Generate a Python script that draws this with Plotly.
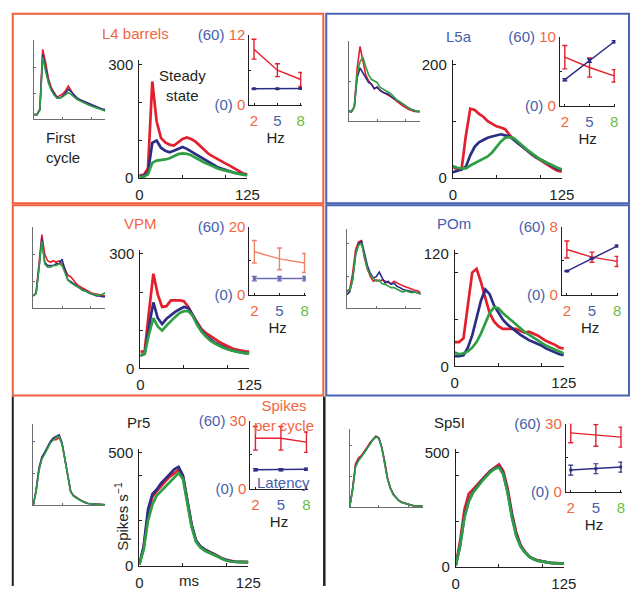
import plotly.graph_objects as go

# ---------------- data ----------------
T = [0, 5, 10, 15, 20, 25, 30, 35, 40, 45, 50, 55, 60, 65, 70, 75, 80, 85, 90, 95, 100, 105, 110, 115, 120, 125]
HZ = [2, 5, 8]

# L4 barrels
L4_SS_RED = [8, 8, 25, 255, 150, 106, 94, 88, 86, 95, 103, 107, 103, 96, 85, 75, 64, 57, 50, 44, 38, 32, 25, 17, 12, 10]
L4_SS_BLUE = [5, 5, 15, 93, 99, 80, 72, 68, 72, 78, 82, 77, 70, 62, 55, 48, 41, 34, 29, 25, 21, 17, 14, 12, 9, 8]
L4_SS_GREEN = [3, 3, 10, 40, 46, 47, 49, 52, 58, 63, 65, 64, 60, 53, 47, 41, 36, 30, 26, 22, 19, 16, 13, 11, 9, 7]
L4_FC_RED = [16, 16, 40, 270, 220, 158, 121, 102, 84, 90, 96, 109, 127, 109, 90, 78, 72, 65, 62, 57, 52, 47, 43, 41, 37, 32]
L4_FC_BLUE = [16, 16, 35, 250, 200, 145, 115, 97, 83, 80, 88, 100, 115, 105, 92, 82, 75, 70, 64, 60, 55, 50, 46, 42, 38, 36]
L4_FC_GREEN = [16, 16, 35, 240, 185, 140, 110, 92, 80, 80, 85, 92, 102, 95, 85, 76, 70, 64, 59, 54, 50, 45, 41, 38, 34, 30]
L4_SPC = [9.6, 6.0, 4.4]
L4_SPC_ERR = [1.7, 1.1, 1.2]
L4_LAT = [14.1, 14.1, 14.2]
L4_LAT_ERR = [0.4, 0.4, 0.4]

# L5a
L5_SS_RED = [20, 15, 15, 75, 122, 120, 113, 108, 100, 95, 91, 89, 86, 76, 68, 61, 55, 48, 42, 37, 32, 26, 21, 17, 13, 11]
L5_SS_BLUE = [10, 12, 15, 20, 40, 55, 63, 67, 71, 73, 75, 77, 75, 73, 67, 61, 55, 48, 42, 37, 33, 29, 24, 20, 16, 14]
L5_SS_GREEN = [21, 18, 17, 17, 22, 26, 30, 34, 38, 45, 55, 64, 71, 72, 70, 64, 57, 50, 44, 38, 33, 29, 25, 21, 18, 15]
L5_FC_RED = [24, 22, 37, 135, 190, 151, 118, 102, 94, 82, 86, 78, 73, 68, 65, 61, 55, 49, 43, 38, 34, 29, 27, 24, 24, 22]
L5_FC_BLUE = [24, 24, 35, 110, 135, 122, 110, 98, 94, 82, 86, 78, 73, 71, 68, 61, 57, 51, 47, 43, 38, 33, 29, 27, 24, 24]
L5_FC_GREEN = [24, 24, 35, 120, 151, 163, 139, 118, 106, 102, 98, 86, 82, 79, 73, 68, 61, 53, 49, 43, 38, 33, 29, 27, 24, 24]
L5_SPC = [7.1, 5.6, 4.4]
L5_SPC_ERR = [1.7, 1.4, 0.9]
L5_LAT = [23.0, 39.6, 56.0]
L5_LAT_ERR = [1.0, 1.5, 1.0]

# VPM
VPM_SS_RED = [44, 45, 150, 248, 194, 161, 163, 178, 178, 178, 176, 161, 140, 120, 103, 93, 85, 78, 70, 64, 58, 53, 49, 46, 45, 44]
VPM_SS_BLUE = [33, 38, 110, 173, 132, 116, 130, 140, 148, 155, 161, 158, 140, 118, 100, 86, 76, 68, 62, 56, 51, 47, 44, 42, 40, 40]
VPM_SS_GREEN = [35, 38, 90, 132, 110, 99, 112, 124, 135, 145, 150, 150, 138, 115, 97, 84, 73, 66, 59, 54, 50, 46, 44, 42, 40, 40]
VPM_FC_RED = [46, 58, 166, 276, 202, 178, 172, 178, 172, 178, 166, 148, 124, 118, 106, 91, 82, 76, 67, 64, 58, 55, 52, 49, 48, 46]
VPM_FC_BLUE = [46, 55, 150, 262, 172, 160, 160, 160, 166, 166, 184, 148, 106, 100, 91, 84, 76, 70, 64, 58, 54, 50, 46, 46, 43, 43]
VPM_FC_GREEN = [46, 55, 150, 252, 166, 154, 154, 160, 160, 166, 160, 136, 106, 96, 88, 82, 76, 67, 64, 58, 54, 52, 49, 49, 52, 58]
VPM_SPC = [12.6, 10.5, 9.3]
VPM_SPC_ERR = [3.3, 3.2, 2.8]
VPM_LAT = [14.1, 14.1, 14.1]
VPM_LAT_ERR = [2.0, 2.0, 2.0]

# POm
POM_SS_RED = [26, 26, 30, 67, 100, 104, 90, 73, 57, 48, 43, 40, 40, 40, 40, 38, 36, 37, 35, 33, 30, 27, 25, 23, 20, 19]
POM_SS_BLUE = [11, 11, 12, 20, 33, 52, 70, 82, 77, 65, 57, 50, 45, 41, 37, 34, 31, 28, 26, 24, 22, 19, 17, 15, 13, 12]
POM_SS_GREEN = [15, 13, 14, 16, 20, 26, 35, 47, 57, 63, 62, 57, 53, 48, 44, 40, 37, 34, 31, 28, 25, 22, 20, 18, 16, 14]
POM_FC_RED = [27, 29, 54, 91, 103, 105, 78, 61, 49, 42, 44, 42, 44, 42, 40, 38, 42, 39, 37, 35, 33, 32, 30, 28, 27, 24]
POM_FC_BLUE = [21, 25, 44, 83, 100, 104, 86, 66, 54, 47, 49, 56, 47, 39, 42, 37, 39, 34, 32, 29, 28, 27, 27, 25, 24, 22]
POM_FC_GREEN = [25, 27, 44, 83, 98, 100, 81, 61, 51, 47, 42, 44, 38, 37, 34, 32, 32, 29, 27, 25, 27, 25, 24, 25, 24, 22]
POM_SPC = [5.3, 4.4, 3.9]
POM_SPC_ERR = [1.0, 0.6, 0.6]
POM_LAT = [20.7, 32.0, 42.8]
POM_LAT_ERR = [0.5, 0.5, 0.8]

# Pr5
PR5_SS_RED = [5, 80, 235, 305, 330, 355, 375, 395, 410, 425, 395, 285, 178, 110, 84, 72, 64, 53, 43, 32, 25, 20, 17, 16, 16, 15]
PR5_SS_BLUE = [5, 85, 250, 318, 338, 366, 386, 407, 427, 438, 400, 290, 181, 112, 85, 71, 62, 51, 41, 30, 23, 19, 16, 16, 15, 15]
PR5_SS_GREEN = [5, 70, 200, 270, 311, 331, 352, 372, 393, 411, 385, 280, 170, 105, 80, 66, 57, 47, 37, 28, 22, 18, 16, 15, 15, 15]
PR5_FC_RED = [0, 90, 225, 295, 325, 365, 395, 412, 411, 425, 385, 290, 175, 88, 62, 48, 38, 28, 18, 13, 10, 8, 6, 6, 4, 4]
PR5_FC_BLUE = [0, 95, 233, 302, 332, 372, 401, 421, 431, 441, 391, 292, 174, 85, 59, 45, 36, 26, 16, 12, 10, 8, 6, 6, 4, 4]
PR5_FC_GREEN = [0, 85, 215, 290, 320, 360, 390, 410, 425, 430, 380, 285, 170, 85, 58, 44, 35, 25, 16, 12, 10, 8, 6, 6, 4, 4]
PR5_SPC = [22.3, 22.3, 20.6]
PR5_SPC_ERR = [5.2, 5.2, 4.5]
PR5_LAT = [16.9, 16.9, 17.2]
PR5_LAT_ERR = [1.0, 1.0, 1.0]

# Sp5I
SP5_SS_RED = [5, 110, 250, 320, 340, 362, 382, 402, 422, 438, 450, 420, 345, 235, 150, 95, 66, 45, 34, 27, 22, 19, 16, 15, 14, 14]
SP5_SS_BLUE = [5, 90, 220, 290, 328, 355, 377, 398, 418, 432, 440, 410, 330, 225, 140, 90, 63, 44, 33, 26, 22, 19, 16, 15, 14, 14]
SP5_SS_GREEN = [5, 90, 215, 285, 325, 352, 374, 395, 415, 430, 437, 405, 325, 215, 135, 88, 62, 43, 32, 25, 21, 18, 16, 15, 14, 14]
SP5_FC_RED = [0, 120, 280, 320, 335, 360, 390, 420, 440, 460, 450, 390, 300, 188, 124, 84, 62, 42, 32, 25, 20, 14, 10, 8, 8, 8]
SP5_FC_BLUE = [0, 112, 265, 306, 327, 357, 388, 418, 439, 459, 449, 388, 296, 184, 122, 82, 61, 41, 31, 24, 20, 14, 10, 8, 8, 8]
SP5_FC_GREEN = [0, 108, 260, 300, 325, 355, 385, 415, 437, 455, 447, 385, 292, 180, 120, 80, 60, 40, 30, 24, 20, 14, 10, 8, 8, 8]
SP5_SPC = [26.0, 24.9, 24.1]
SP5_SPC_ERR = [4.4, 4.8, 4.4]
SP5_LAT = [19.1, 20.3, 21.8]
SP5_LAT_ERR = [4.4, 4.4, 4.4]

PANEL_NAMES = ["L4 barrels", "L5a", "VPM", "POm", "Pr5", "Sp5I"]
RATE_MAX = [300, 200, 300, 120, 500, 500]
RATE_MINOR = [[100, 200], [100], [100, 200], [50, 100], [200, 400], [200, 400]]
SPC_MAX = [12, 10, 20, 8, 30, 30]
LAT_MAX = 60

# ---------------- style ----------------
W, H = 643, 593
FONT = "Liberation Sans, Arial, sans-serif"
TXT = "#231f20"
RED = "#e31f2e"
NAVY = "#2c2d84"
GREEN = "#2f9e44"
ORANGE_T = "#f2663f"
BLUE_T = "#4660ad"
GREEN_T = "#6cbd45"
BOX_OR = "#f0603f"
BOX_BL = "#4a63b3"
GRAY = "#6d6e71"

def xd(a, b):
    return [a / W, b / W]

def yd(top, bottom):
    return [1 - bottom / H, 1 - top / H]

def px(x):
    return x / W

def py(y):
    return 1 - y / H

panels = [
    dict(ss=(L4_SS_RED, L4_SS_BLUE, L4_SS_GREEN), fc=(L4_FC_RED, L4_FC_BLUE, L4_FC_GREEN),
         spc=(L4_SPC, L4_SPC_ERR), lat=(L4_LAT, L4_LAT_ERR), tcol=ORANGE_T,
         small=(31, 104, 32, 113), main=(139, 250, 53, 174), inset=(252, 306, 27, 99), title=(135, 25),
         icol=(RED, NAVY)),
    dict(ss=(L5_SS_RED, L5_SS_BLUE, L5_SS_GREEN), fc=(L5_FC_RED, L5_FC_BLUE, L5_FC_GREEN),
         spc=(L5_SPC, L5_SPC_ERR), lat=(L5_LAT, L5_LAT_ERR), tcol=BLUE_T,
         small=(354, 427, 33, 115), main=(461, 573, 53, 174), inset=(571, 628, 29, 100), title=(467, 28),
         icol=(RED, NAVY)),
    dict(ss=(VPM_SS_RED, VPM_SS_BLUE, VPM_SS_GREEN), fc=(VPM_FC_RED, VPM_FC_BLUE, VPM_FC_GREEN),
         spc=(VPM_SPC, VPM_SPC_ERR), lat=(VPM_LAT, VPM_LAT_ERR), tcol=ORANGE_T,
         small=(30, 104, 224, 308), main=(140, 252, 248, 370), inset=(252, 310, 224, 294), title=(140, 221),
         icol=("#f08468", "#6b6cb8")),
    dict(ss=(POM_SS_RED, POM_SS_BLUE, POM_SS_GREEN), fc=(POM_FC_RED, POM_FC_BLUE, POM_FC_GREEN),
         spc=(POM_SPC, POM_SPC_ERR), lat=(POM_LAT, POM_LAT_ERR), tcol=BLUE_T,
         small=(352, 428, 227, 308), main=(463, 575, 248, 368), inset=(573, 631, 224, 294), title=(462, 221),
         icol=(RED, NAVY)),
    dict(ss=(PR5_SS_RED, PR5_SS_BLUE, PR5_SS_GREEN), fc=(PR5_FC_RED, PR5_FC_BLUE, PR5_FC_GREEN),
         spc=(PR5_SPC, PR5_SPC_ERR), lat=(PR5_LAT, PR5_LAT_ERR), tcol=TXT,
         small=(30, 104, 427, 511), main=(139, 251, 453, 573), inset=(253, 312, 424, 494), title=(138, 426),
         icol=(RED, NAVY)),
    dict(ss=(SP5_SS_RED, SP5_SS_BLUE, SP5_SS_GREEN), fc=(SP5_FC_RED, SP5_FC_BLUE, SP5_FC_GREEN),
         spc=(SP5_SPC, SP5_SPC_ERR), lat=(SP5_LAT, SP5_LAT_ERR), tcol=TXT,
         small=(355, 430, 432, 513), main=(464, 575, 453, 574), inset=(577, 635, 427, 497), title=(458, 426),
         icol=(RED, NAVY)),
]

fig = go.Figure()
layout = {}
annotations = []

def span(color, s):
    return '<span style="color:%s">%s</span>' % (color, s)

def key(axis, n):
    return axis + ("" if n == 1 else str(n))

for p, pan in enumerate(panels):
    ymax = RATE_MAX[p]
    minor = RATE_MINOR[p]
    ns, nm, ni = 3 * p + 1, 3 * p + 2, 3 * p + 3
    no = 18 + p + 1

    # first-cycle small axes
    sx0, sx1, sy0, sy1 = pan["small"]
    layout[key("xaxis", ns)] = dict(domain=xd(sx0, sx1), anchor="y%d" % ns, range=[0, 125],
                                    showgrid=False, zeroline=False, showline=True, linecolor=GRAY,
                                    linewidth=1, ticks="inside", ticklen=2, tickcolor=GRAY,
                                    tickvals=[50, 100], showticklabels=False)
    layout[key("yaxis", ns)] = dict(domain=yd(sy0, sy1), anchor="x%d" % ns, range=[0, ymax * 1.02],
                                    showgrid=False, zeroline=False, showline=True, linecolor=GRAY,
                                    linewidth=1, ticks="inside", ticklen=2, tickcolor=GRAY,
                                    tickvals=minor, showticklabels=False)
    for ys, c in zip(pan["fc"], (RED, NAVY, GREEN)):
        fig.add_trace(go.Scatter(x=T, y=ys, mode="lines", line=dict(color=c, width=1.6),
                                 xaxis="x%d" % ns, yaxis="y%d" % ns, showlegend=False, hoverinfo="skip"))

    # steady-state main axes
    mx0, mx1, my0, my1 = pan["main"]
    layout[key("xaxis", nm)] = dict(domain=xd(mx0, mx1), anchor="y%d" % nm, range=[0, 125],
                                    showgrid=False, zeroline=False, showline=True, linecolor=TXT,
                                    linewidth=1, ticks="inside", ticklen=3, tickcolor=TXT,
                                    tickvals=[0, 125], ticktext=["0", "125"], ticklabelstandoff=3,
                                    minor=dict(tickvals=[50, 100], ticks="inside", ticklen=3,
                                               tickcolor=TXT, showgrid=False),
                                    tickfont=dict(size=15, color=TXT, family=FONT))
    layout[key("yaxis", nm)] = dict(domain=yd(my0, my1), anchor="x%d" % nm, range=[0, ymax * 1.035],
                                    showgrid=False, zeroline=False, showline=True, linecolor=TXT,
                                    linewidth=1, ticks="inside", ticklen=3, tickcolor=TXT,
                                    tickvals=[0, ymax], ticktext=["0", str(ymax)], ticklabelstandoff=2,
                                    minor=dict(tickvals=minor, ticks="inside", ticklen=3,
                                               tickcolor=TXT, showgrid=False),
                                    tickfont=dict(size=15, color=TXT, family=FONT))
    for ys, c in zip(pan["ss"], (RED, NAVY, GREEN)):
        fig.add_trace(go.Scatter(x=T, y=ys, mode="lines", line=dict(color=c, width=2.7),
                                 xaxis="x%d" % nm, yaxis="y%d" % nm, showlegend=False, hoverinfo="skip"))

    # inset: spikes per cycle (left scale) and latency (0-60 scale)
    ix0, ix1, iy0, iy1 = pan["inset"]
    smax = SPC_MAX[p]
    layout[key("xaxis", ni)] = dict(domain=xd(ix0, ix1), anchor="y%d" % ni, range=[1.4, 8.15],
                                    showgrid=False, zeroline=False, showline=True, linecolor=TXT,
                                    linewidth=1, ticks="inside", ticklen=2, tickcolor=TXT,
                                    tickvals=HZ, ticklabelstandoff=2,
                                    ticktext=[span(ORANGE_T, "2"), span(BLUE_T, "5"), span(GREEN_T, "8")],
                                    tickfont=dict(size=15, family=FONT),
                                    title=dict(text="Hz", standoff=0, font=dict(size=15, color=TXT, family=FONT)))
    layout[key("yaxis", ni)] = dict(domain=yd(iy0, iy1), anchor="x%d" % ni, range=[0, smax],
                                    showgrid=False, zeroline=False, showline=True, linecolor=TXT,
                                    linewidth=1, ticks="inside", ticklen=2, tickcolor=TXT,
                                    tickvals=[0, smax],
                                    ticktext=[span(BLUE_T, "(0)") + " 0",
                                              span(BLUE_T, "(%d)" % LAT_MAX) + " %d" % smax],
                                    minor=dict(tickvals=[smax / 2], ticks="inside", ticklen=2,
                                               tickcolor=TXT, showgrid=False),
                                    tickfont=dict(size=15, color=ORANGE_T, family=FONT))
    layout[key("yaxis", no)] = dict(overlaying="y%d" % ni, anchor="x%d" % ni, range=[0, LAT_MAX],
                                    visible=False, showgrid=False, zeroline=False)
    rc, bc = pan["icol"]
    spc, spc_err = pan["spc"]
    lat, lat_err = pan["lat"]
    fig.add_trace(go.Scatter(x=HZ, y=spc, mode="lines", line=dict(color=rc, width=1.4),
                             error_y=dict(type="data", array=spc_err, color=rc, thickness=1.4, width=2.5),
                             xaxis="x%d" % ni, yaxis="y%d" % ni, showlegend=False, hoverinfo="skip"))
    fig.add_trace(go.Scatter(x=HZ, y=lat, mode="lines+markers", line=dict(color=bc, width=1.5),
                             marker=dict(color=bc, size=3, symbol="square"),
                             error_y=dict(type="data", array=lat_err, color=bc, thickness=1.2, width=2.5),
                             xaxis="x%d" % ni, yaxis="y%d" % no, showlegend=False, hoverinfo="skip"))

    tx, ty = pan["title"]
    annotations.append(dict(text=PANEL_NAMES[p], x=px(tx), y=py(ty), xref="paper", yref="paper",
                            showarrow=False, xanchor="center", yanchor="middle",
                            font=dict(size=15, color=pan["tcol"], family=FONT)))

def note(text, x, y, color=TXT, align="center", xanchor="center", angle=0, size=15):
    annotations.append(dict(text=text, x=px(x), y=py(y), xref="paper", yref="paper", showarrow=False,
                            xanchor=xanchor, yanchor="middle", align=align, textangle=angle,
                            font=dict(size=size, color=color, family=FONT)))

note("Steady<br>state", 183, 79)
note("First<br>cycle", 41, 143, align="left", xanchor="left")
note("Spikes<br>per cycle", 288, 418, color=ORANGE_T)
note("Latency", 287, 487, color=BLUE_T)
note("ms", 190, 588)
note("Spikes s<sup>\u22121</sup>", 120, 522, angle=-90)

shapes = [
    dict(type="rect", xref="paper", yref="paper", x0=px(9), x1=px(328), y0=py(200), y1=py(5),
         line=dict(color=BOX_OR, width=2)),
    dict(type="rect", xref="paper", yref="paper", x0=px(331), x1=px(642), y0=py(200), y1=py(5),
         line=dict(color=BOX_BL, width=2)),
    dict(type="rect", xref="paper", yref="paper", x0=px(9), x1=px(328), y0=py(398), y1=py(202),
         line=dict(color=BOX_OR, width=2)),
    dict(type="rect", xref="paper", yref="paper", x0=px(331), x1=px(642), y0=py(398), y1=py(202),
         line=dict(color=BOX_BL, width=2)),
    dict(type="line", xref="paper", yref="paper", x0=px(9), x1=px(9), y0=py(399), y1=py(594),
         line=dict(color="#231f20", width=2)),
    dict(type="line", xref="paper", yref="paper", x0=px(329), x1=px(329), y0=py(399), y1=py(594),
         line=dict(color="#231f20", width=2.5)),
]

fig.update_layout(
    width=W, height=H, autosize=False,
    margin=dict(l=0, r=0, t=0, b=0),
    paper_bgcolor="white", plot_bgcolor="rgba(0,0,0,0)",
    font=dict(family=FONT, size=15, color=TXT),
    showlegend=False,
    annotations=annotations,
    shapes=shapes,
    **layout,
)

fig.write_html("out.html", config={"displayModeBar": False},
               post_script="document.body.style.margin='0';document.body.style.overflow='hidden';")
